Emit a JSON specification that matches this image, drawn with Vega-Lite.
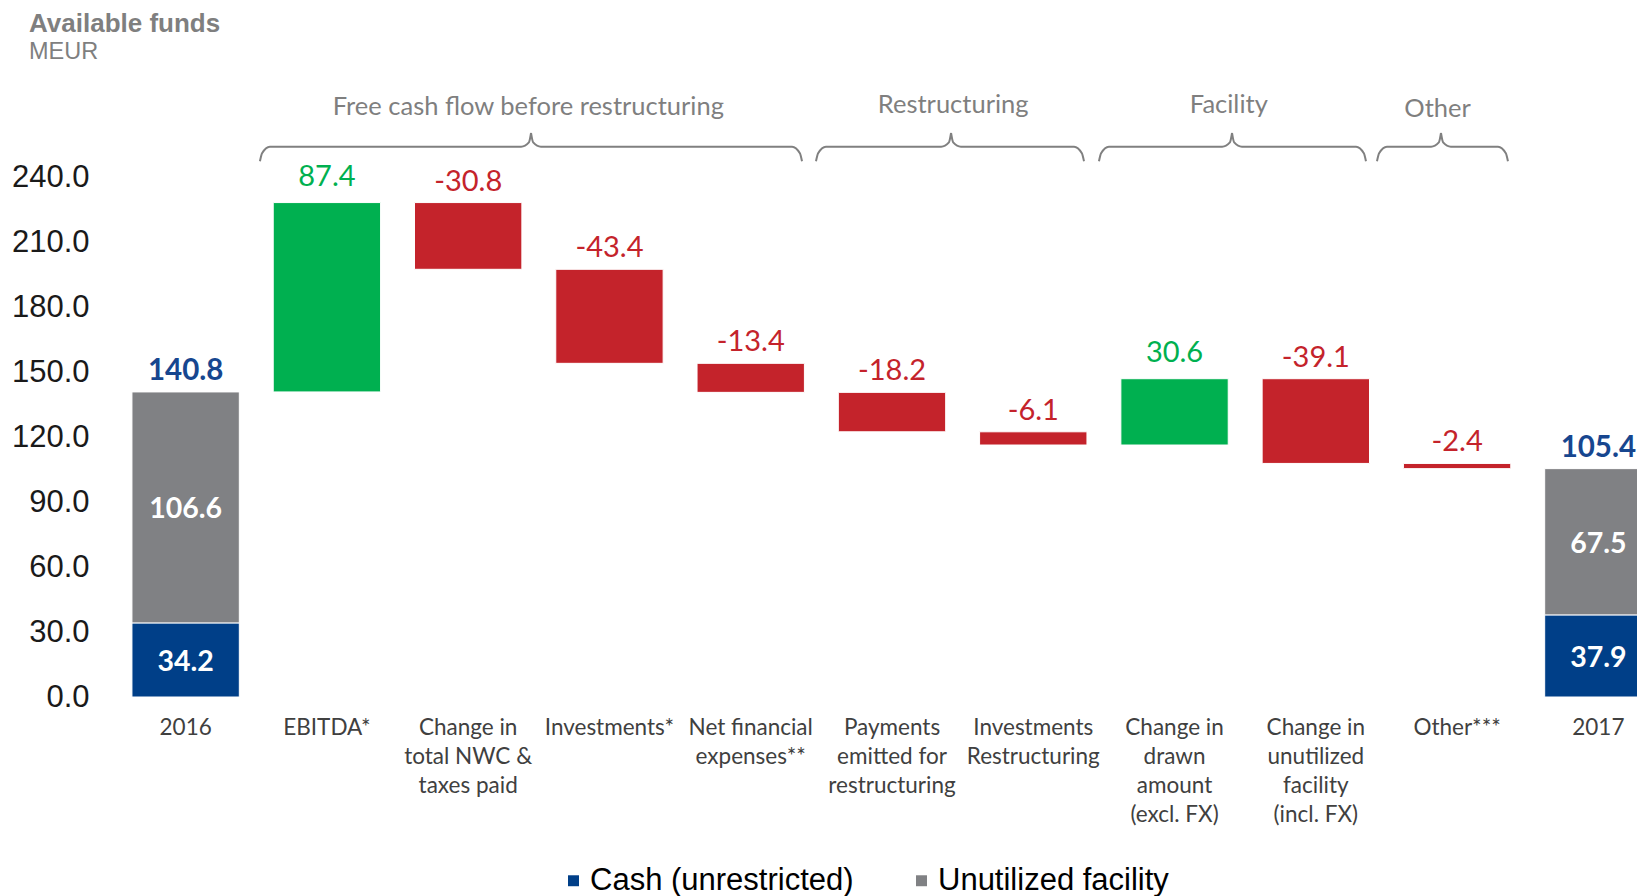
{
  "$schema": "https://vega.github.io/schema/vega-lite/v6.json",
  "width": 1522,
  "height": 520,
  "autosize": "none",
  "padding": {"left": 115, "top": 177, "right": 0, "bottom": 199},
  "config": {"view": {"stroke": null}, "font": "Lato"},
  "title": {
    "text": "Available funds",
    "subtitle": "MEUR",
    "anchor": "start",
    "frame": "group",
    "dx": -86,
    "offset": 30,
    "font": "Liberation Sans",
    "fontSize": 26,
    "fontWeight": "bold",
    "color": "#7f7f7f",
    "subtitleFont": "Liberation Sans",
    "subtitleFontSize": 23.5,
    "subtitleColor": "#7f7f7f",
    "subtitlePadding": 3
  },
  "datasets": {
    "bars": [
      {"cat": "2016", "type": "Cash (unrestricted)", "start": 0, "end": 34.2, "label": "34.2"},
      {"cat": "2016", "type": "Unutilized facility", "start": 34.2, "end": 140.8, "label": "106.6"},
      {"cat": "2016", "type": "Total", "start": 140.8, "end": 140.8, "label": "140.8"},
      {"cat": "EBITDA*", "type": "Increase", "start": 140.8, "end": 228.2, "label": "87.4"},
      {"cat": "Change in|total NWC &|taxes paid", "type": "Decrease", "start": 228.2, "end": 197.4, "label": "-30.8"},
      {"cat": "Investments*", "type": "Decrease", "start": 197.4, "end": 154.0, "label": "-43.4"},
      {"cat": "Net financial|expenses**", "type": "Decrease", "start": 154.0, "end": 140.6, "label": "-13.4"},
      {"cat": "Payments|emitted for|restructuring", "type": "Decrease", "start": 140.6, "end": 122.4, "label": "-18.2"},
      {"cat": "Investments|Restructuring", "type": "Decrease", "start": 122.4, "end": 116.3, "label": "-6.1"},
      {"cat": "Change in|drawn|amount|(excl. FX)", "type": "Increase", "start": 116.3, "end": 146.9, "label": "30.6"},
      {"cat": "Change in|unutilized|facility|(incl. FX)", "type": "Decrease", "start": 146.9, "end": 107.8, "label": "-39.1"},
      {"cat": "Other***", "type": "Decrease", "start": 107.8, "end": 105.4, "label": "-2.4"},
      {"cat": "2017", "type": "Cash (unrestricted)", "start": 0, "end": 37.9, "label": "37.9"},
      {"cat": "2017", "type": "Unutilized facility", "start": 37.9, "end": 105.4, "label": "67.5"},
      {"cat": "2017", "type": "Total", "start": 105.4, "end": 105.4, "label": "105.4"}
    ],
    "brackets": [
      {"b": "A", "s": "L", "o": 1, "x": 1.026, "y": 247.3},
      {"b": "A", "s": "L", "o": 2, "x": 1.041, "y": 251.0},
      {"b": "A", "s": "L", "o": 3, "x": 1.096, "y": 254.0},
      {"b": "A", "s": "L", "o": 4, "x": 2.875, "y": 254.0},
      {"b": "A", "s": "L", "o": 5, "x": 2.930, "y": 256.0},
      {"b": "A", "s": "L", "o": 6, "x": 2.945, "y": 260.3},
      {"b": "A", "s": "R", "o": 1, "x": 2.945, "y": 260.3},
      {"b": "A", "s": "R", "o": 2, "x": 2.960, "y": 256.0},
      {"b": "A", "s": "R", "o": 3, "x": 3.015, "y": 254.0},
      {"b": "A", "s": "R", "o": 4, "x": 4.793, "y": 254.0},
      {"b": "A", "s": "R", "o": 5, "x": 4.848, "y": 251.0},
      {"b": "A", "s": "R", "o": 6, "x": 4.863, "y": 247.3},
      {"b": "B", "s": "L", "o": 1, "x": 4.962, "y": 247.3},
      {"b": "B", "s": "L", "o": 2, "x": 4.977, "y": 251.0},
      {"b": "B", "s": "L", "o": 3, "x": 5.032, "y": 254.0},
      {"b": "B", "s": "L", "o": 4, "x": 5.848, "y": 254.0},
      {"b": "B", "s": "L", "o": 5, "x": 5.903, "y": 256.0},
      {"b": "B", "s": "L", "o": 6, "x": 5.918, "y": 260.3},
      {"b": "B", "s": "R", "o": 1, "x": 5.918, "y": 260.3},
      {"b": "B", "s": "R", "o": 2, "x": 5.933, "y": 256.0},
      {"b": "B", "s": "R", "o": 3, "x": 5.988, "y": 254.0},
      {"b": "B", "s": "R", "o": 4, "x": 6.789, "y": 254.0},
      {"b": "B", "s": "R", "o": 5, "x": 6.844, "y": 251.0},
      {"b": "B", "s": "R", "o": 6, "x": 6.859, "y": 247.3},
      {"b": "C", "s": "L", "o": 1, "x": 6.965, "y": 247.3},
      {"b": "C", "s": "L", "o": 2, "x": 6.980, "y": 251.0},
      {"b": "C", "s": "L", "o": 3, "x": 7.035, "y": 254.0},
      {"b": "C", "s": "L", "o": 4, "x": 7.837, "y": 254.0},
      {"b": "C", "s": "L", "o": 5, "x": 7.892, "y": 256.0},
      {"b": "C", "s": "L", "o": 6, "x": 7.907, "y": 260.3},
      {"b": "C", "s": "R", "o": 1, "x": 7.907, "y": 260.3},
      {"b": "C", "s": "R", "o": 2, "x": 7.922, "y": 256.0},
      {"b": "C", "s": "R", "o": 3, "x": 7.977, "y": 254.0},
      {"b": "C", "s": "R", "o": 4, "x": 8.785, "y": 254.0},
      {"b": "C", "s": "R", "o": 5, "x": 8.840, "y": 251.0},
      {"b": "C", "s": "R", "o": 6, "x": 8.855, "y": 247.3},
      {"b": "D", "s": "L", "o": 1, "x": 8.933, "y": 247.3},
      {"b": "D", "s": "L", "o": 2, "x": 8.948, "y": 251.0},
      {"b": "D", "s": "L", "o": 3, "x": 9.003, "y": 254.0},
      {"b": "D", "s": "L", "o": 4, "x": 9.316, "y": 254.0},
      {"b": "D", "s": "L", "o": 5, "x": 9.371, "y": 256.0},
      {"b": "D", "s": "L", "o": 6, "x": 9.386, "y": 260.3},
      {"b": "D", "s": "R", "o": 1, "x": 9.386, "y": 260.3},
      {"b": "D", "s": "R", "o": 2, "x": 9.401, "y": 256.0},
      {"b": "D", "s": "R", "o": 3, "x": 9.456, "y": 254.0},
      {"b": "D", "s": "R", "o": 4, "x": 9.790, "y": 254.0},
      {"b": "D", "s": "R", "o": 5, "x": 9.845, "y": 251.0},
      {"b": "D", "s": "R", "o": 6, "x": 9.860, "y": 247.3}
    ],
    "groups": [
      {"name": "Free cash flow before restructuring", "x": 2.926, "y": 272.2},
      {"name": "Restructuring", "x": 5.933, "y": 273.2},
      {"name": "Facility", "x": 7.884, "y": 273.2},
      {"name": "Other", "x": 9.362, "y": 271.3}
    ]
  },
  "layer": [
    {
      "data": {"name": "bars"},
      "encoding": {
        "x": {
          "field": "cat",
          "type": "nominal",
          "sort": null,
          "scale": {"range": [0, 1554], "paddingInner": 0.24, "paddingOuter": 0.12},
          "axis": {
            "title": null,
            "domain": false,
            "ticks": false,
            "grid": false,
            "labelAngle": 0,
            "labelFont": "Lato",
            "labelFontSize": 22.5,
            "labelColor": "#404040",
            "labelPadding": 19,
            "labelBaseline": "top",
            "labelLineHeight": 29,
            "labelOverlap": false,
            "labelBound": false,
            "labelLimit": 300,
            "labelExpr": "split(datum.value, '|')"
          }
        }
      },
      "layer": [
        {
          "transform": [{"filter": "datum.type !== 'Total'"}],
          "mark": {"type": "bar", "stroke": "white", "strokeWidth": 1},
          "encoding": {
            "y": {
              "field": "start",
              "type": "quantitative",
              "scale": {"domain": [0, 240], "nice": false, "zero": true},
              "axis": {
                "title": null,
                "values": [0, 30, 60, 90, 120, 150, 180, 210, 240],
                "format": ".1f",
                "domain": false,
                "ticks": false,
                "grid": false,
                "labelFont": "Liberation Sans",
                "labelFontSize": 31,
                "labelColor": "#1a1a1a",
                "labelPadding": 26
              }
            },
            "y2": {"field": "end"},
            "color": {
              "field": "type",
              "type": "nominal",
              "scale": {
                "domain": ["Cash (unrestricted)", "Unutilized facility", "Increase", "Decrease"],
                "range": ["#003F88", "#808184", "#00B050", "#C4232B"]
              },
              "legend": {
                "orient": "none",
                "legendX": 443,
                "legendY": 688,
                "direction": "horizontal",
                "title": null,
                "values": ["Cash (unrestricted)", "Unutilized facility"],
                "symbolType": "square",
                "symbolSize": 120,
                "symbolStrokeWidth": 0,
                "labelFont": "Liberation Sans",
                "labelFontSize": 31,
                "labelColor": "#000000",
                "labelOffset": 1,
                "columnPadding": 52,
                "labelLimit": 400
              }
            }
          }
        },
        {
          "transform": [{"filter": "datum.type === 'Increase'"}],
          "mark": {"type": "text", "font": "Lato", "fontSize": 29, "baseline": "alphabetic", "dy": -17},
          "encoding": {
            "y": {"field": "end", "type": "quantitative"},
            "text": {"field": "label"},
            "color": {"field": "type", "type": "nominal"}
          }
        },
        {
          "transform": [{"filter": "datum.type === 'Decrease'"}],
          "mark": {"type": "text", "font": "Lato", "fontSize": 29, "baseline": "alphabetic", "dy": -12},
          "encoding": {
            "y": {"field": "start", "type": "quantitative"},
            "text": {"field": "label"},
            "color": {"field": "type", "type": "nominal"}
          }
        },
        {
          "transform": [{"filter": "datum.type === 'Total'"}],
          "mark": {"type": "text", "font": "Lato", "fontSize": 29.5, "fontWeight": "bold", "baseline": "alphabetic", "dy": -12, "color": "#17468F"},
          "encoding": {
            "y": {"field": "end", "type": "quantitative"},
            "text": {"field": "label"}
          }
        },
        {
          "transform": [
            {"filter": "datum.type === 'Cash (unrestricted)' || datum.type === 'Unutilized facility'"},
            {"calculate": "(datum.start + datum.end) / 2", "as": "mid"}
          ],
          "mark": {"type": "text", "font": "Lato", "fontSize": 28.5, "fontWeight": "bold", "baseline": "middle", "dy": 2, "color": "white"},
          "encoding": {
            "y": {"field": "mid", "type": "quantitative"},
            "text": {"field": "label"}
          }
        }
      ]
    },
    {
      "layer": [
        {
          "data": {"name": "brackets"},
          "mark": {"type": "line", "interpolate": "monotone", "color": "#808080", "strokeWidth": 2},
          "encoding": {
            "x": {"field": "x", "type": "quantitative", "scale": {"domain": [0, 11], "range": [0, 1554], "nice": false, "zero": false}, "axis": null},
            "y": {"field": "y", "type": "quantitative"},
            "detail": [{"field": "b"}, {"field": "s"}],
            "order": {"field": "o"}
          }
        },
        {
          "data": {"name": "groups"},
          "mark": {"type": "text", "font": "Lato", "fontSize": 25.5, "color": "#7f7f7f", "baseline": "middle"},
          "encoding": {
            "x": {"field": "x", "type": "quantitative", "scale": {"domain": [0, 11], "range": [0, 1554], "nice": false, "zero": false}, "axis": null},
            "y": {"field": "y", "type": "quantitative"},
            "text": {"field": "name"}
          }
        }
      ]
    }
  ],
  "resolve": {"scale": {"x": "independent"}}
}
